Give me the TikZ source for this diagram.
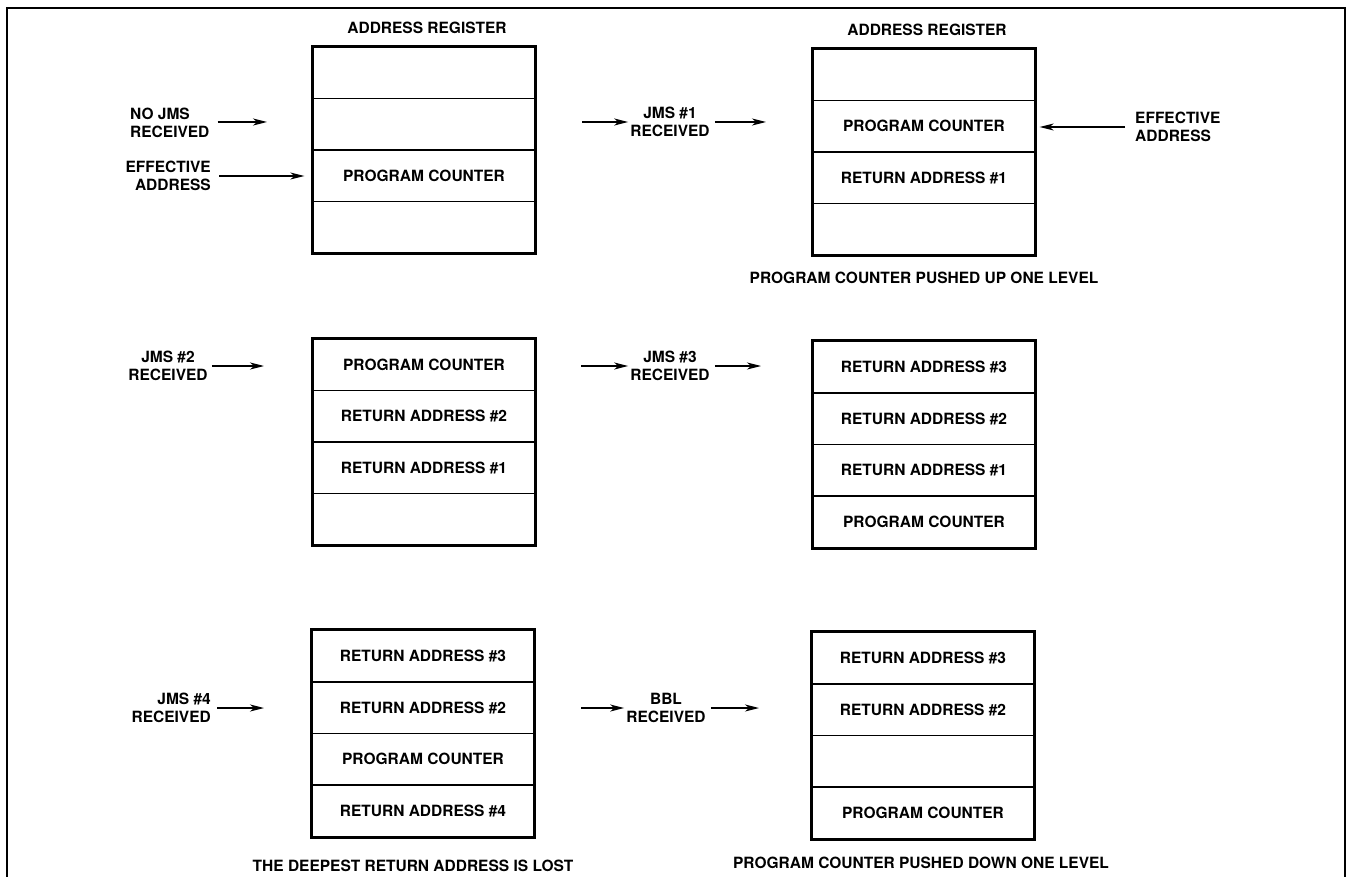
\documentclass[tikz,border=0pt]{standalone}
\usepackage{fontspec}
\setmainfont{TeX Gyre Heros}
\usepackage{tikz}
\usetikzlibrary{arrows.meta,positioning}

\begin{document}
\begin{tikzpicture}[x=1pt,y=-1pt,
  font=\fontsize{15.5}{17.5}\selectfont\bfseries,
  cell/.style={draw, line width=1.3pt, minimum width=222pt, minimum height=51.5pt, inner sep=0pt},
  outer/.style={line width=3pt},
  lbl/.style={inner sep=0pt},
  sig/.style={line width=1.3pt, -{Stealth[length=14pt,width=7pt,inset=4pt]}}]

\useasboundingbox (0,0) rectangle (1349,877);
\draw[line width=1.5pt] (7,877) -- (7,8) -- (1345,8) -- (1345,877);

% titles
\node[lbl] (title-l) at (427,28) {ADDRESS REGISTER};
\node[lbl] (title-r) at (927,30) {ADDRESS REGISTER};

% registers
\foreach \t [count=\i] in {{}, {}, PROGRAM COUNTER, {}}
  \node[cell] (idle-\i) at (424, 21.25+51.5*\i) {\t};
\draw[outer] (idle-1.north west) rectangle (idle-4.south east);

\foreach \t [count=\i] in {{}, PROGRAM COUNTER, {RETURN ADDRESS \#1}, {}}
  \node[cell] (one-\i) at (924, 23.25+51.5*\i) {\t};
\draw[outer] (one-1.north west) rectangle (one-4.south east);

\foreach \t [count=\i] in {PROGRAM COUNTER, {RETURN ADDRESS \#2}, {RETURN ADDRESS \#1}, {}}
  \node[cell] (two-\i) at (424, 313.25+51.5*\i) {\t};
\draw[outer] (two-1.north west) rectangle (two-4.south east);

\foreach \t [count=\i] in {{RETURN ADDRESS \#3}, {RETURN ADDRESS \#2}, {RETURN ADDRESS \#1}, PROGRAM COUNTER}
  \node[cell] (three-\i) at (924, 315.75+51.5*\i) {\t};
\draw[outer] (three-1.north west) rectangle (three-4.south east);

\foreach \t [count=\i] in {{RETURN ADDRESS \#3}, {RETURN ADDRESS \#2}, PROGRAM COUNTER, {RETURN ADDRESS \#4}}
  \node[cell] (four-\i) at (423, 604.75+51.5*\i) {\t};
\draw[outer] (four-1.north west) rectangle (four-4.south east);

\foreach \t [count=\i] in {{RETURN ADDRESS \#3}, {RETURN ADDRESS \#2}, {}, PROGRAM COUNTER}
  \node[cell] (ret-\i) at (923, 606.75+51.5*\i) {\t};
\draw[outer] (ret-1.north west) rectangle (ret-4.south east);

% row 1
\node[lbl, align=left, anchor=west] (nojms) at (130,123) {NO JMS\\RECEIVED};
\coordinate (nojms-end) at (267,122);
\draw[sig] ([xshift=8pt]nojms.east |- nojms-end) -- (nojms-end);

\node[lbl, align=right, anchor=east] (eff-l) at (211,176) {EFFECTIVE\\ADDRESS};
\draw[sig, shorten <=8pt, shorten >=8pt] (eff-l.east) -- (eff-l.east -| idle-3.west);

\coordinate (jms1-in) at (582,122);
\node[lbl, align=center] (jms1) at (670,122) {JMS \#1\\RECEIVED};
\coordinate (jms1-out) at (766,122);
\draw[sig, shorten >=2pt] (jms1-in) -- (jms1.west);
\draw[sig, shorten <=5pt] (jms1.east) -- (jms1-out);

\node[lbl, align=left, anchor=west] (eff-r) at (1135,127) {EFFECTIVE\\ADDRESS};
\draw[sig, shorten <=10pt, shorten >=4pt] (eff-r.west) -- (eff-r.west -| one-2.east);

\node[lbl] (up) at (924,278) {PROGRAM COUNTER PUSHED UP ONE LEVEL};

% row 2
\node[lbl, align=center] (jms2) at (168,366) {JMS \#2\\RECEIVED};
\coordinate (jms2-end) at (264,366);
\draw[sig, shorten <=4pt] (jms2.east) -- (jms2-end);

\coordinate (jms3-in) at (581,366);
\node[lbl, align=center] (jms3) at (670,366) {JMS \#3\\RECEIVED};
\coordinate (jms3-out) at (761,366);
\draw[sig, shorten >=2pt] (jms3-in) -- (jms3.west);
\draw[sig, shorten <=5pt] (jms3.east) -- (jms3-out);

% row 3
\node[lbl, align=right, anchor=east] (jms4) at (211,708) {JMS \#4\\RECEIVED};
\coordinate (jms4-end) at (264,708);
\draw[sig, shorten <=6pt] (jms4.east) -- (jms4-end);

\coordinate (bbl-in) at (581,708);
\node[lbl, align=center] (bbl) at (666,708) {BBL\\RECEIVED};
\coordinate (bbl-out) at (759,708);
\draw[sig, shorten >=2pt] (bbl-in) -- (bbl.west);
\draw[sig, shorten <=5pt] (bbl.east) -- (bbl-out);

\node[lbl] (lost) at (413,866) {THE DEEPEST RETURN ADDRESS IS LOST};
\node[lbl] (down) at (921,863) {PROGRAM COUNTER PUSHED DOWN ONE LEVEL};
\end{tikzpicture}
\end{document}
